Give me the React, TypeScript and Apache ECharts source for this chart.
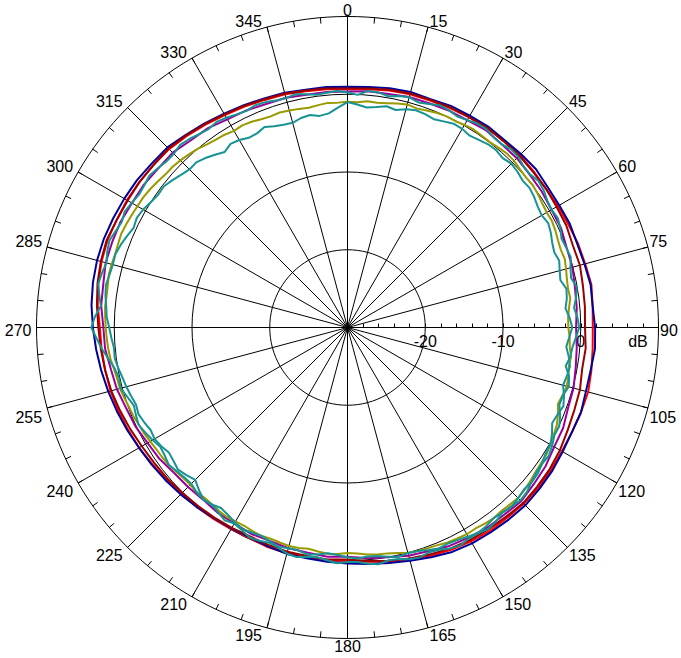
import React, { useEffect, useRef } from "react";
import * as echarts from "echarts";

// Bearings (degrees, clockwise from top), 5-degree sampling
const ANGLES = [
  0, 5, 10, 15, 20, 25, 30, 35, 40, 45, 50, 55, 60, 65, 70, 75, 80, 85,
  90, 95, 100, 105, 110, 115, 120, 125, 130, 135, 140, 145, 150, 155, 160, 165, 170, 175,
  180, 185, 190, 195, 200, 205, 210, 215, 220, 225, 230, 235, 240, 245, 250, 255, 260, 265,
  270, 275, 280, 285, 290, 295, 300, 305, 310, 315, 320, 325, 330, 335, 340, 345, 350, 355,
];
// Bearings, 2.5-degree sampling (for the noisier traces)
const ANGLES_FINE = [
  0, 2.5, 5, 7.5, 10, 12.5, 15, 17.5, 20, 22.5, 25, 27.5, 30, 32.5, 35, 37.5, 40, 42.5, 45, 47.5, 50, 52.5, 55, 57.5,
  60, 62.5, 65, 67.5, 70, 72.5, 75, 77.5, 80, 82.5, 85, 87.5, 90, 92.5, 95, 97.5, 100, 102.5, 105, 107.5, 110, 112.5, 115, 117.5,
  120, 122.5, 125, 127.5, 130, 132.5, 135, 137.5, 140, 142.5, 145, 147.5, 150, 152.5, 155, 157.5, 160, 162.5, 165, 167.5, 170, 172.5, 175, 177.5,
  180, 182.5, 185, 187.5, 190, 192.5, 195, 197.5, 200, 202.5, 205, 207.5, 210, 212.5, 215, 217.5, 220, 222.5, 225, 227.5, 230, 232.5, 235, 237.5,
  240, 242.5, 245, 247.5, 250, 252.5, 255, 257.5, 260, 262.5, 265, 267.5, 270, 272.5, 275, 277.5, 280, 282.5, 285, 287.5, 290, 292.5, 295, 297.5,
  300, 302.5, 305, 307.5, 310, 312.5, 315, 317.5, 320, 322.5, 325, 327.5, 330, 332.5, 335, 337.5, 340, 342.5, 345, 347.5, 350, 352.5, 355, 357.5,
];

// Angle axis tick labels (every 15 degrees)
const ANGLE_TICKS = [0, 15, 30, 45, 60, 75, 90, 105, 120, 135, 150, 165, 180, 195, 210, 225, 240, 255, 270, 285, 300, 315, 330, 345];
// Radial labels (dB)
const RADIAL_LABELS: Record<number, string> = { [-20]: "-20", [-10]: "-10", [0]: "0", [8]: "dB" };

const NAVY = [
  0.95, 1.05, 1.25, 1.35, 1.25, 1.45, 1.45, 1.55, 1.45, 1.55, 1.65, 1.45, 1.45, 1.55, 1.45, 1.55, 1.75, 1.65,
  1.85, 1.95, 1.75, 1.75, 1.95, 1.85, 1.95, 2.15, 2.25, 2.35, 2.25, 2.15, 2.05, 1.85, 1.45, 1.05, 0.75, 0.55,
  0.35, 0.25, 0.15, 0.15, -0.05, -0.25, -0.15, -0.05, 0.15, 0.35, 0.55, 0.75, 0.95, 1.25, 1.55, 1.85, 2.15, 2.45,
  2.75, 3.05, 3.25, 3.35, 3.35, 3.25, 3.15, 3.05, 2.85, 2.75, 2.35, 2.05, 1.75, 1.55, 1.35, 1.25, 1.05, 1.05,
];
const RED = [
  0.65, 0.75, 0.95, 1.05, 1.05, 1.15, 1.25, 1.25, 1.35, 1.35, 1.25, 1.15, 1.25, 1.35, 1.55, 1.65, 1.85, 1.65,
  1.55, 1.65, 1.85, 2.05, 1.95, 1.85, 1.85, 1.95, 2.05, 2.05, 1.95, 1.95, 1.75, 1.55, 1.25, 0.85, 0.55, 0.25,
  0.05, 0.05, -0.05, 0.05, 0.05, -0.15, -0.05, 0.05, 0.15, 0.25, 0.45, 0.65, 0.95, 1.15, 1.35, 1.55, 1.65, 1.75,
  1.85, 2.25, 2.55, 2.75, 2.85, 2.75, 2.75, 2.65, 2.55, 2.45, 2.15, 1.85, 1.55, 1.35, 1.15, 1.05, 0.85, 0.75,
];
const MAROON = [
  0.75, 0.85, 1.05, 1.15, 1.15, 1.25, 1.25, 1.35, 1.25, 1.25, 1.15, 1.15, 1.05, 1.05, 0.85, 0.95, 0.75, 0.65,
  0.55, 0.75, 0.65, 0.95, 1.05, 1.25, 1.55, 1.75, 1.85, 1.95, 1.75, 1.65, 1.55, 1.35, 1.05, 0.75, 0.45, 0.15,
  -0.15, -0.05, -0.15, -0.15, -0.25, -0.35, -0.25, -0.15, -0.05, 0.05, 0.25, 0.35, 0.55, 0.85, 1.15, 1.45, 1.65, 1.85,
  2.05, 2.35, 2.65, 2.85, 2.95, 2.75, 2.65, 2.65, 2.55, 2.55, 2.25, 1.95, 1.65, 1.45, 1.25, 1.15, 0.95, 0.85,
];
const PURPLE = [
  0.35, 0.5, 0.5, 0.7, 0.7, 0.8, 0.8, 1.0, 0.8, 0.8, 0.6, 0.5, 0.3, 0.3, 0.0, -0.05, -0.3, -0.4,
  -0.6, -0.4, -0.2, 0.1, 0.2, 0.6, 0.7, 1.1, 1.3, 1.6, 1.4, 1.4, 1.2, 1.0, 0.6, 0.4, 0.0, -0.2,
  -0.5, -0.4, -0.6, -0.6, -0.8, -0.7, -0.9, -0.9, -1.1, -1.0, -0.9, -0.5, -0.3, 0.1, 0.3, 0.7, 0.9, 1.3,
  1.4, 1.8, 1.9, 2.2, 2.2, 2.2, 2.0, 2.0, 1.8, 1.8, 1.4, 1.3, 0.9, 0.8, 0.6, 0.6, 0.4, 0.4,
];
const OLIVE = [
  -0.95, -1.0, -0.8, -0.85, -0.7, -0.5, -0.3, -0.45, -0.3, -0.1, 0.0, -0.05, 0.1, 0.2, 0.1, 0.05, 0.2, 0.35, 0.3, 0.1, 0.0, 0.05, -0.1, -0.3,
  -0.4, -0.35, -0.5, -0.7, -0.8, -0.7, -0.9, -1.1, -1.2, -1.1, -1.4, -1.6, -1.6, -1.4, -1.3, -1.0, -1.1, -0.9, -0.8, -1.0, -1.2, -0.7, -0.3, -0.1,
  0.1, 0.35, 0.4, 0.5, 0.7, 0.9, 1.0, 0.9, 0.8, 0.9, 0.8, 0.65, 0.7, 0.6, 0.5, 0.3, 0.2, 0.15, 0.0, -0.3, -0.5, -0.55, -0.7, -0.9,
  -1.0, -0.85, -0.8, -0.95, -1.1, -0.95, -0.9, -1.0, -1.1, -1.0, -1.1, -1.25, -1.2, -1.1, -1.2, -1.35, -1.4, -1.3, -1.4, -1.35, -1.2, -1.0, -0.9, -0.85,
  -0.7, -0.5, -0.4, -0.2, -0.1, 0.1, 0.3, 0.35, 0.5, 0.75, 0.9, 1.0, 1.1, 1.2, 1.3, 1.25, 1.3, 1.45, 1.4, 1.35, 1.4, 1.5, 1.4, 1.3,
  1.2, 1.15, 1.0, 0.8, 0.6, 0.55, 0.4, 0.2, 0.0, -0.3, -0.5, -0.6, -0.8, -0.7, -0.8, -1.0, -1.1, -1.0, -1.1, -1.2, -1.3, -1.15, -1.0, -1.05,
];
const TEAL_A = [
  0.25, -0.05, 0.55, 0.5, 0.2, 0.5, 0.65, 0.35, 0.6, 0.95, 0.85, 0.6, 0.8, 1.1, 1.15, 0.85, 0.8, 1.1, 1.05, 0.7, 0.65, 0.95, 0.8, 0.45,
  0.3, 0.5, 0.2, -0.2, -0.05, 0.1, -0.3, -0.55, -0.05, -0.35, -0.75, -0.4, -0.2, -0.6, -0.95, -1.1, -1.5, -0.8, -0.55, -0.95, -1.0, -0.4, 0.05, 0.0,
  0.4, 0.7, 0.55, 0.6, 0.9, 1.3, 1.45, 1.2, 1.05, 1.4, 1.6, 1.35, 1.3, 1.55, 1.35, 0.95, 0.75, 1.0, 0.85, 0.5, 0.4, 0.7, 0.5, 0.2,
  0.15, 0.35, 0.05, -0.2, -0.05, 0.25, 0.1, -0.3, -0.55, -0.3, -0.2, -0.6, -0.9, -0.6, -1.0, -1.3, -1.15, -1.25, -1.6, -1.5, -1.3, -1.0, -1.3, -1.45,
  -1.05, -0.7, -0.35, -0.55, -0.75, -0.3, 0.2, 0.1, 0.4, 1.0, 1.7, 2.3, 2.95, 2.5, 1.85, 2.2, 2.55, 2.35, 2.1, 2.4, 2.6, 2.3, 2.05, 2.3,
  2.05, 1.8, 1.9, 2.1, 1.85, 1.6, 1.6, 1.85, 1.65, 1.35, 1.15, 1.35, 1.15, 0.9, 0.75, 0.95, 0.85, 0.6, 0.55, 0.75, 0.45, 0.2, 0.3, 0.45,
];
const TEAL_B = [
  -1.0, -1.3, -1.6, -1.4, -1.1, -1.35, -0.95, -0.7, -0.8, -1.0, -0.75, -0.45, -0.5, -0.75, -0.55, -0.3, -0.25, -0.45, -0.2, -0.35, -0.6, -0.5, -0.7, -1.0,
  -1.15, -0.9, -1.15, -1.5, -1.7, -1.45, -1.75, -1.95, -1.4, -1.55, -1.85, -1.4, -1.1, -1.45, -1.75, -1.3, -0.95, -1.1, -1.3, -0.8, -0.45, -0.75, -0.95, -0.35,
  0.15, 0.2, 0.55, 0.85, 0.95, 0.8, 1.05, 1.25, 1.05, 0.9, 1.15, 1.3, 1.05, 0.8, 0.65, 0.75, 0.45, 0.15, 0.05, 0.2, -0.05, -0.35, -0.45, -0.25,
  -0.45, -0.7, -0.85, -0.55, -0.35, -0.65, -0.6, -0.45, -0.75, -1.0, -0.9, -0.75, -1.05, -1.4, -1.65, -1.3, -1.15, -1.7, -2.3, -1.9, -1.55, -1.8, -1.95, -1.6,
  -1.35, -1.45, -1.15, -0.9, -1.05, -0.8, -0.55, -0.35, -0.05, 0.2, 0.15, 0.4, 0.65, 1.0, 1.15, 1.4, 1.55, 1.35, 1.25, 1.3, 1.05, 0.7, 0.35, 0.55,
  0.35, 0.0, -0.25, -0.2, -0.55, -0.95, -1.25, -1.2, -1.55, -2.0, -2.45, -2.0, -2.15, -2.5, -2.45, -2.1, -2.45, -2.65, -2.75, -2.4, -2.25, -2.55, -2.35, -1.7,
];

const SERIES_DEFS = [
  { name: "red", color: "#ff0000", angles: ANGLES, values: RED },
  { name: "navy", color: "#000099", angles: ANGLES, values: NAVY },
  { name: "maroon", color: "#990000", angles: ANGLES, values: MAROON },
  { name: "purple", color: "#990099", angles: ANGLES, values: PURPLE },
  { name: "olive", color: "#999900", angles: ANGLES_FINE, values: OLIVE },
  { name: "tealA", color: "#179393", angles: ANGLES_FINE, values: TEAL_A },
  { name: "tealB", color: "#179393", angles: ANGLES_FINE, values: TEAL_B },
];

const FONT = "'Liberation Sans', Arial, sans-serif";
const CENTER = [347.5, 327.5];
const R_OUT = 311;
const R_MIN = -30;
const R_MAX = 10;
const LABEL_FS = 16;
const DIGIT_W = 8.9;
const LABEL_LH = 12;

// Per-label rich styles so that each bearing label sits beside its spoke end
// (left of it on the west half, right of it on the east half).
function buildAngleRich() {
  const rich: Record<string, any> = {};
  ANGLE_TICKS.forEach((a) => {
    const rad = (a * Math.PI) / 180;
    const ux = Math.sin(rad);
    const uy = -Math.cos(rad);
    const w = String(a).length * DIGIT_W;
    const hA = Math.abs(ux) < 0.3 ? "center" : ux > 0 ? "left" : "right";
    const vA = Math.abs(uy) < 0.3 ? "middle" : uy > 0 ? "top" : "bottom";
    const gx = hA === "left" ? w / 2 : hA === "right" ? -w / 2 : 0;
    const gy = vA === "top" ? LABEL_LH / 2 : vA === "bottom" ? -LABEL_LH / 2 : 0;
    const tx = ux > 0.01 ? 1.5 + w / 2 : ux < -0.01 ? -5 - w / 2 : 0;
    const ty = Math.abs(uy) < 0.01 ? 2.5 : uy < 0 ? -6 : 10;
    const dx = tx - gx;
    const dy = ty - gy;
    let pl = 0, pr = 0, pt = 0, pb = 0;
    if (hA === "center") {
      if (dx > 0) pl = 2 * dx; else pr = -2 * dx;
    } else if (hA === "left") pl = Math.max(0, dx);
    else pr = Math.max(0, -dx);
    if (vA === "middle") {
      if (dy > 0) pt = 2 * dy; else pb = -2 * dy;
    } else if (vA === "top") pt = Math.max(0, dy);
    else pb = Math.max(0, -dy);
    rich["a" + a] = {
      padding: [pt, pr, pb, pl],
      lineHeight: LABEL_LH,
      fontSize: LABEL_FS,
      fontFamily: FONT,
      color: "#000",
    };
  });
  return rich;
}

export default function App() {
  const ref = useRef<HTMLDivElement>(null);

  useEffect(() => {
    if (!ref.current) return;
    const chart = echarts.init(ref.current, null, { renderer: "svg" });
    const toData = (angles: number[], vals: number[]) => {
      const d = angles.map((a, i) => [vals[i], a]);
      d.push([vals[0], 360]);
      return d;
    };
    const black = { color: "#000", width: 1 };
    chart.setOption({
      animation: false,
      backgroundColor: "#ffffff",
      polar: [
        { center: CENTER, radius: R_OUT },
        { center: CENTER, radius: (R_OUT * (0 - R_MIN)) / (R_MAX - R_MIN) },
        { center: CENTER, radius: R_OUT },
      ],
      angleAxis: [
        {
          polarIndex: 0,
          type: "value",
          min: 0,
          max: 360,
          interval: 15,
          startAngle: 90,
          clockwise: true,
          axisLine: { show: true, lineStyle: black },
          axisTick: { show: true, inside: true, length: 6, lineStyle: black },
          minorTick: { show: true, splitNumber: 3, length: 6, lineStyle: black },
          splitLine: { show: true, lineStyle: black },
          axisLabel: {
            show: true,
            margin: 0,
            fontSize: LABEL_FS,
            color: "#000",
            fontFamily: FONT,
            formatter: (v: number) => (ANGLE_TICKS.indexOf(v) >= 0 ? `{a${v}|${v}}` : ""),
            rich: buildAngleRich(),
          },
        },
        { polarIndex: 1, type: "value", min: 0, max: 360, startAngle: 90, show: false },
        { polarIndex: 2, type: "value", min: 0, max: 360, startAngle: 0, show: false },
      ],
      radiusAxis: [
        { polarIndex: 0, type: "value", min: R_MIN, max: R_MAX, show: false },
        {
          polarIndex: 1,
          type: "value",
          min: R_MIN,
          max: 0,
          interval: 10,
          axisLine: { show: false },
          axisTick: { show: false },
          axisLabel: { show: false },
          splitLine: { show: true, lineStyle: black },
        },
        {
          polarIndex: 2,
          type: "value",
          min: R_MIN,
          max: R_MAX,
          interval: 2,
          axisLine: { show: true, lineStyle: black },
          axisTick: { show: true, length: 4, lineStyle: black },
          splitLine: { show: false },
          axisLabel: {
            show: true,
            margin: -6,
            verticalAlign: "top",
            fontSize: 16,
            color: "#000",
            fontFamily: FONT,
            formatter: (v: number) => {
              const t = RADIAL_LABELS[v];
              if (!t) return "";
              return t === "dB" ? `{d|${t}}` : t;
            },
            rich: {
              d: { padding: [0, 10, 0, 0], fontSize: 16, fontFamily: FONT, color: "#000" },
            },
          },
        },
      ],
      series: SERIES_DEFS.map((s) => ({
        name: s.name,
        type: "line",
        coordinateSystem: "polar",
        polarIndex: 0,
        symbol: "none",
        silent: true,
        lineStyle: { color: s.color, width: 2 },
        itemStyle: { color: s.color },
        data: toData(s.angles, s.values),
      })),
    });
    return () => chart.dispose();
  }, []);

  return (
    <div
      ref={ref}
      style={{ position: "fixed", left: 0, top: 0, width: 681, height: 658, background: "#fff" }}
    />
  );
}
